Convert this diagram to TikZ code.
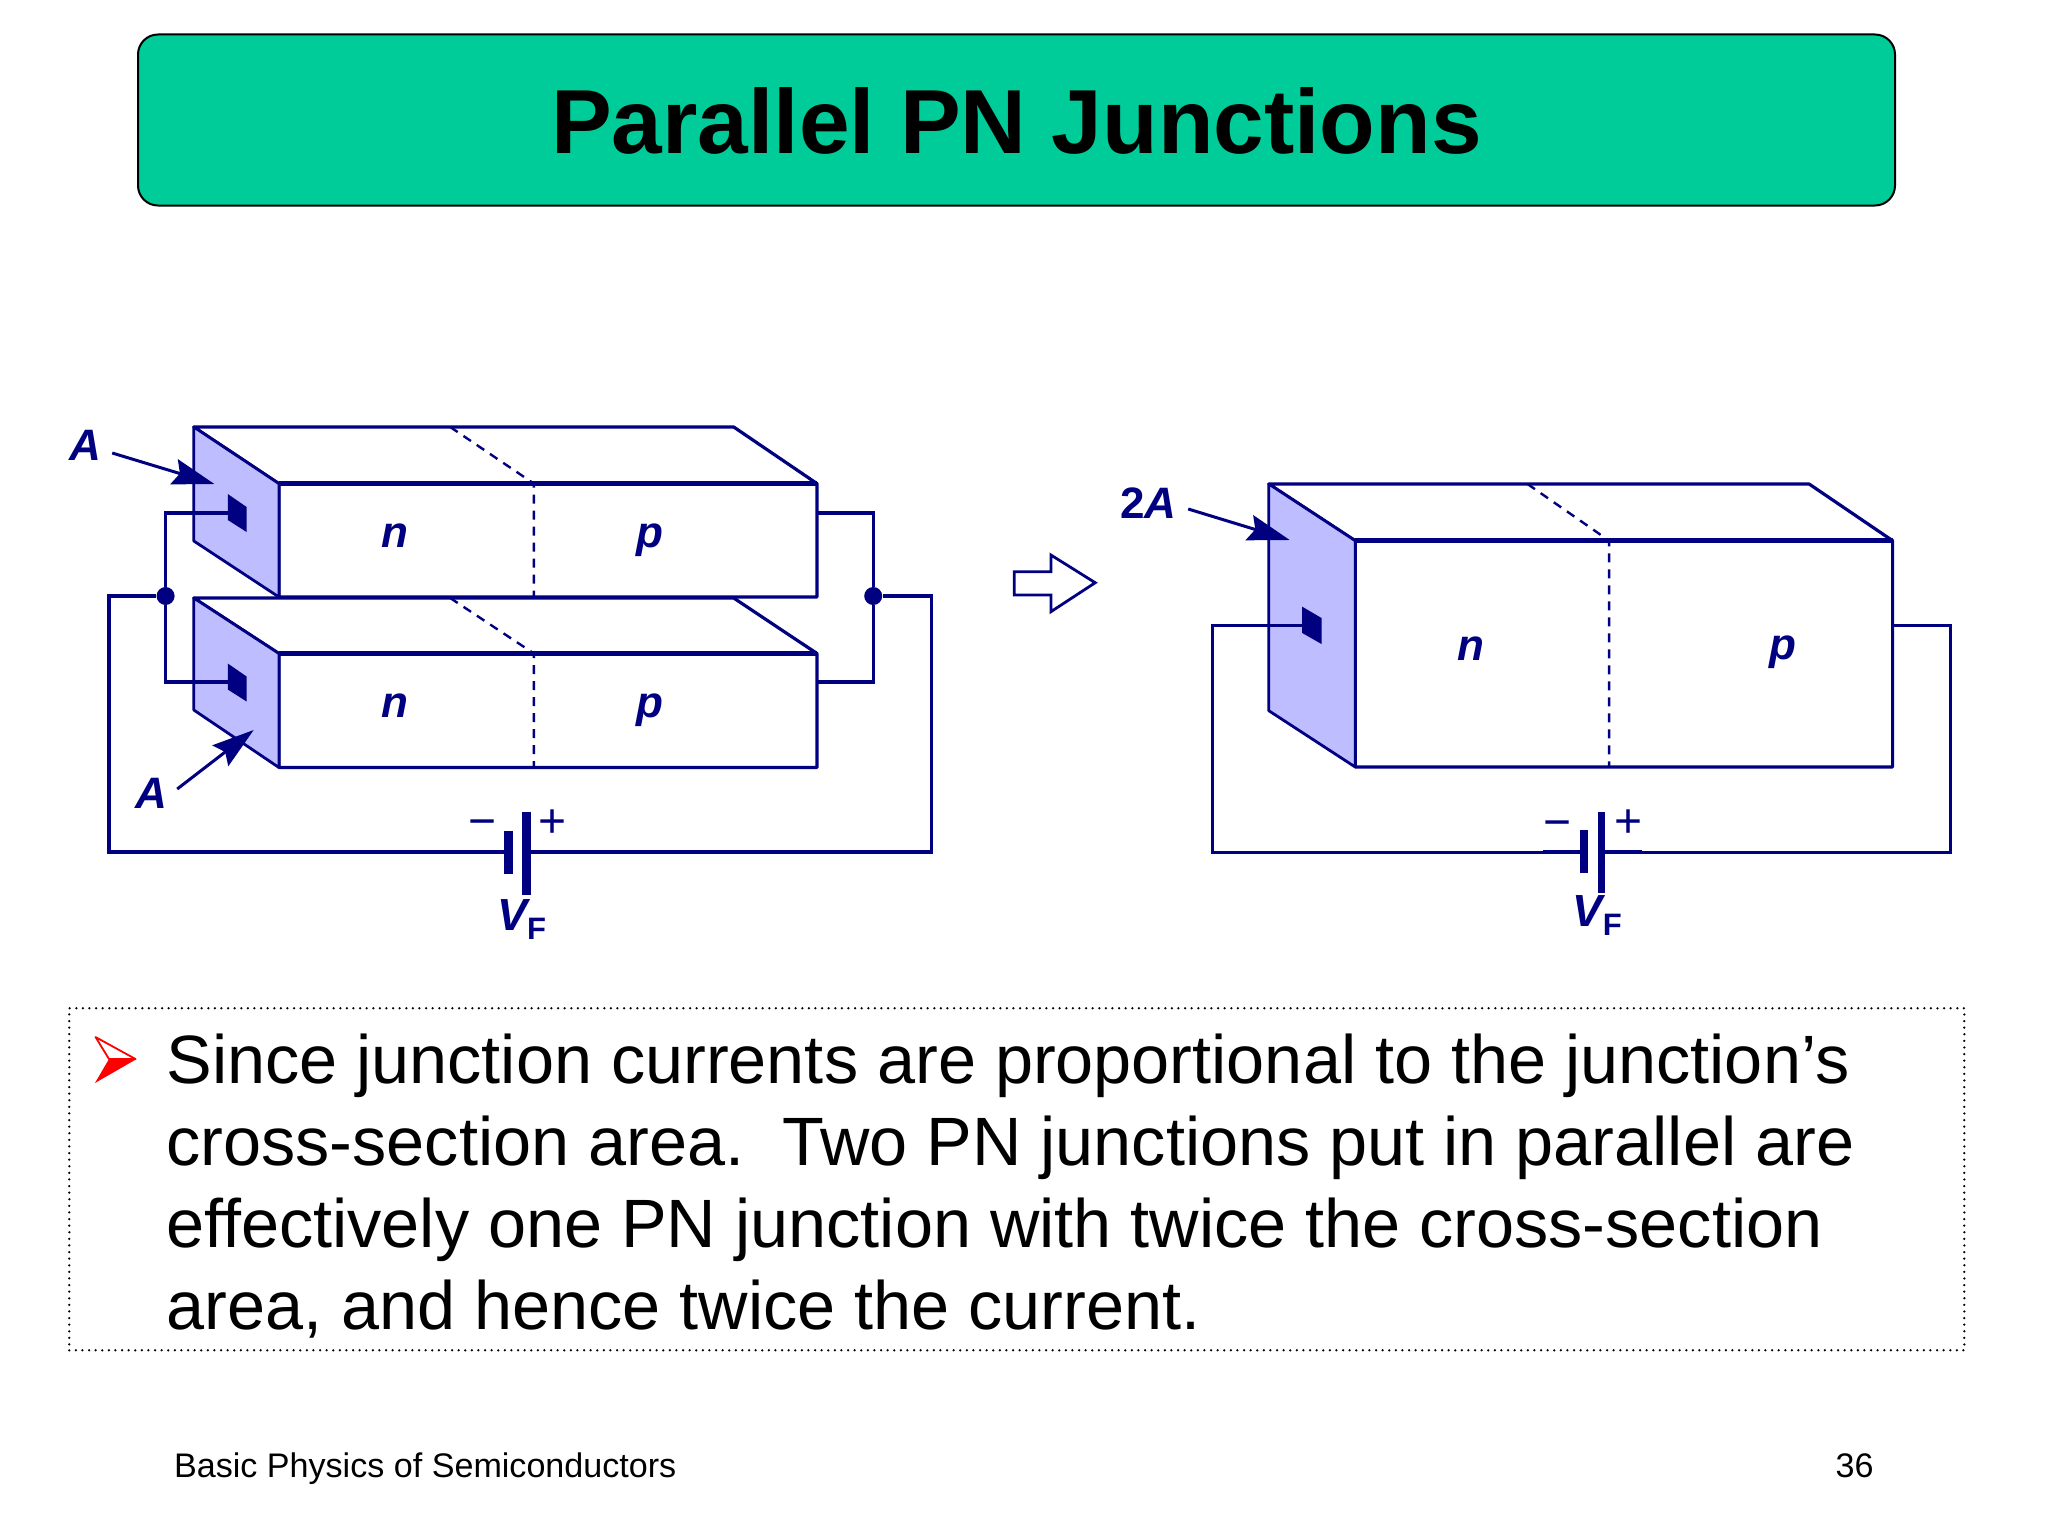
\documentclass[tikz,border=0pt]{standalone}
\usepackage{fontspec}
\setmainfont{Liberation Sans}
\usetikzlibrary{arrows.meta}
\definecolor{navyb}{HTML}{000080}
\definecolor{facec}{HTML}{BDBDFF}
\definecolor{titleg}{HTML}{00CC99}
\definecolor{redb}{HTML}{FF0000}
\tikzset{
 edge/.style={draw=navyb,line width=1.6pt,line join=round},
 wire/.style={draw=navyb,line width=1.7pt,line join=miter},
 dashline/.style={draw=navyb,line width=1.2pt,dash pattern=on 4.5pt off 3.5pt},
 plate/.style={draw=navyb,line width=4.5pt},
 contact/.style={fill=navyb,draw=none},
 face/.style={fill=facec,draw=navyb,line width=1.4pt,line join=round},
 junction/.style={circle,fill=navyb,draw=none,inner sep=0pt,minimum size=9pt},
 lab/.style={text=navyb,font=\fontsize{22}{24}\selectfont\bfseries\itshape,inner sep=0pt},
 sign/.style={text=navyb,font=\fontsize{24}{26}\selectfont,inner sep=0pt},
 pointer/.style={draw=navyb,line width=1.5pt,-{Stealth[length=21pt,width=13pt,inset=3pt]}},
}
\newcommand{\vf}{\fontsize{22.5}{24}\selectfont\bfseries\itshape V\raisebox{-4.5pt}{\fontsize{15.5}{17}\selectfont\bfseries\upshape F}}
\newcommand{\pnblock}[8]{%
  \coordinate (#1bt) at (#2,#6);
  \coordinate (#1ft) at (#3,#7);
  \coordinate (#1br) at (#4,#6);
  \coordinate (#1fr) at (#5,#7);
  \coordinate (#1fb) at (#3,#8);
  \coordinate (#1rb) at (#5,#8);
}
\begin{document}
\begin{tikzpicture}[x=0.5pt,y=-0.5pt]
\useasboundingbox (0,0) rectangle (2048,1536);
\fill[white] (0,0) rectangle (2048,1536);
% title
\node[draw=black,line width=1pt,fill=titleg,rounded corners=10pt,minimum width=878.5pt,minimum height=85.5pt,inner sep=0pt,anchor=north west] (titlebox) at (137,33.5) {};
\node[anchor=base,inner sep=0pt,font=\fontsize{45.5}{50}\selectfont\bfseries] (titletext) at (1016.5,153) {Parallel PN Junctions};

\begin{scope}[xshift=0.6pt]
% upper left block
\pnblock{a}{192.6}{277.7}{732.5}{815.8}{427}{483.6}{597}
\coordinate (al) at (192.6,541);
\coordinate (ad1) at (449,427); \coordinate (ad2) at (532.7,483.6); \coordinate (ad3) at (532.7,597);
\draw[edge] (abt) -- (abr) -- (afr) -- (arb) -- (afb) -- (aft) -- cycle;
\draw[edge,line width=2.2pt] (aft) -- (afr);
\draw[dashline] (ad1) -- (ad2) -- (ad3);
\draw[face] (abt) -- (aft) -- (afb) -- (al) -- cycle;
\fill[contact] (226.6,494) -- (245.4,507) -- (245.4,532) -- (226.6,520) -- cycle;
\coordinate (ac) at (227,513);
% lower left block
\pnblock{b}{192.6}{277.7}{732.5}{815.8}{598}{653.5}{767.5}
\coordinate (bl) at (192.6,710);
\coordinate (bd1) at (449,598); \coordinate (bd2) at (532.7,653.5); \coordinate (bd3) at (532.7,767.5);
\draw[edge] (bbt) -- (bbr) -- (bfr) -- (brb) -- (bfb) -- (bft) -- cycle;
\draw[edge,line width=2.2pt] (bft) -- (bfr);
\draw[dashline] (bd1) -- (bd2) -- (bd3);
\draw[face] (bbt) -- (bft) -- (bfb) -- (bl) -- cycle;
\fill[contact] (226.6,663.5) -- (245.4,676.5) -- (245.4,701.5) -- (226.6,689.5) -- cycle;
\coordinate (bc) at (227,682);
% left circuit
\node[junction] (jl) at (164.4,596) {};
\node[junction] (jr) at (872,596) {};
\draw[wire] (ac) -| (jl);
\draw[wire] (bc) -| (jl);
\coordinate (arw) at (815.8,513); \coordinate (brw) at (815.8,682);
\draw[wire] (arw) -| (jr);
\draw[wire] (brw) -| (jr);
\coordinate (p1) at (506.8,852); \coordinate (p2) at (525.7,852);
\draw[wire] (jl) -- (107.7,596) |- (p1);
\draw[wire] (jr) -- (930.3,596) |- (p2);
\draw[plate] (p1 |- 0,830.5) -- (p1 |- 0,873.5);
\draw[plate] (p2 |- 0,811.5) -- (p2 |- 0,895);
\node[sign] (lminus) at (481.3,829) {−};
\node[sign] (lplus) at (551,824) {+};
\node[anchor=base,text=navyb,inner sep=0pt] (lvf) at (520.5,930) {\vf};
% left labels
\node[lab] (na) at (394,536) {n};
\node[lab] (pa) at (648.5,540) {p};
\node[lab] (nb) at (394,706) {n};
\node[lab] (pb) at (648.5,710) {p};
\node[lab] (la) at (84,445) {A};
\node[lab] (lb) at (150.5,793) {A};
\coordinate (tipa) at (213.2,484);
\coordinate (tipb) at (252.5,730);
\coordinate (sa) at (111,453);
\coordinate (sb) at (176,789);
\draw[pointer] (sa) -- (tipa);
\draw[pointer] (sb) -- (tipb);

% block arrow
\draw[draw=navyb,line width=1.4pt,fill=white,line join=miter] (1013,571.7) -- (1049.7,571.7) -- (1049.7,555) -- (1094,582.7) -- (1049.7,611.7) -- (1049.7,595) -- (1013,595) -- cycle;

% right block
\pnblock{c}{1267.6}{1354}{1807.9}{1891.4}{484}{540.7}{767}
\coordinate (cl) at (1267.6,710.7);
\coordinate (cd1) at (1526.3,484); \coordinate (cd2) at (1607.9,540.7); \coordinate (cd3) at (1607.9,767);
\draw[edge] (cbt) -- (cbr) -- (cfr) -- (crb) -- (cfb) -- (cft) -- cycle;
\draw[edge,line width=2.4pt] (cft) -- (cfr);
\draw[dashline] (cd1) -- (cd2) -- (cd3);
\draw[face] (cbt) -- (cft) -- (cfb) -- (cl) -- cycle;
\fill[contact] (1301,606.7) -- (1320.3,618) -- (1320.3,644) -- (1301,633) -- cycle;
\coordinate (cc) at (1301.5,625);
\coordinate (crw) at (1891.4,625);
\coordinate (q1) at (1583,852); \coordinate (q2) at (1600,852);
\draw[wire,line width=1.5pt] (cc) -| (1211.7,852) -- (q1);
\draw[wire,line width=1.5pt] (crw) -| (1949.6,852) -- (q2);
\draw[wire] (1542.2,852) -- (q1);
\draw[wire] (q2) -- (1640.7,852);
\draw[plate,line width=4pt] (q1 |- 0,830) -- (q1 |- 0,873);
\draw[plate,line width=3.5pt] (q2 |- 0,812) -- (q2 |- 0,893);
\node[sign] (rminus) at (1556,830) {−};
\node[sign] (rplus) at (1627,824) {+};
\node[anchor=base,text=navyb,inner sep=0pt] (rvf) at (1596,926) {\vf};
\node[lab] (nc) at (1470,649) {n};
\node[lab] (pc) at (1781.5,652) {p};
\node[lab] (lc) at (1147,503) {\upshape 2\itshape A};
\coordinate (tipc) at (1288.5,540);
\coordinate (sc) at (1187,509);
\draw[pointer] (sc) -- (tipc);
\end{scope}

% text box
\node[draw=black,line width=1.25pt,dash pattern=on 0pt off 3.3pt,line cap=round,minimum width=947.5pt,minimum height=171pt,inner sep=0pt,anchor=north west] (textbox) at (68,1007) {};
\draw[redb,fill=white,line width=0.9pt,line join=round] (95.5,1037) -- (135.5,1059) -- (109,1059) -- cycle;
\fill[redb] (95,1083) -- (136.7,1059) -- (109,1059) -- cycle;
\node[anchor=north west,inner sep=0pt,align=left,font=\fontsize{34.2}{41}\selectfont] (body) at (166,1034) {Since junction currents are proportional to the junction’s\\cross-section area.\ \ Two PN junctions put in parallel are\\effectively one PN junction with twice the cross-section\\area, and hence twice the current.};

% footer
\node[anchor=base west,inner sep=0pt,font=\fontsize{17.05}{20}\selectfont] (foot) at (173.7,1477) {Basic Physics of Semiconductors};
\node[anchor=base east,inner sep=0pt,font=\fontsize{17.05}{20}\selectfont] (page) at (1874,1477) {36};
\end{tikzpicture}
\end{document}
